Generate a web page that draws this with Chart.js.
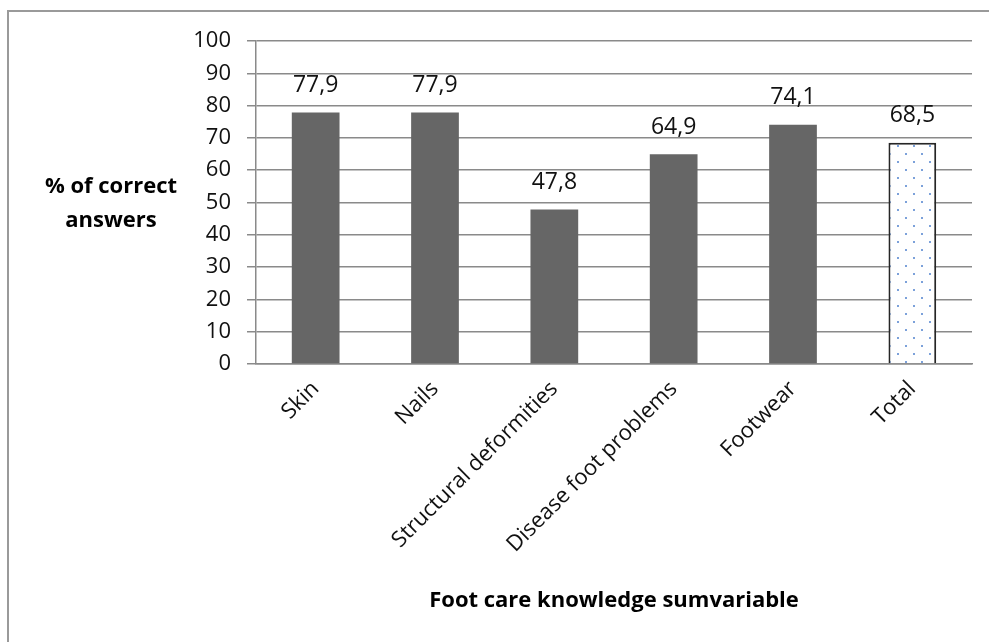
<!DOCTYPE html>
<html lang="en">
  <head>
    <meta charset="UTF-8" />
    <title>Foot care knowledge</title>
    <script src="https://cdn.jsdelivr.net/npm/chart.js@4.4.1/dist/chart.umd.min.js"></script>
    <style>
      body { margin: 0; background: #fff; }
      #wrap { width: 989px; height: 642px; }
    </style>
  </head>
  <body>
    <div id="wrap"><canvas id="myChart"></canvas></div>

    <script>
      const labels = ["Skin", "Nails", "Structural deformities", "Disease foot problems", "Footwear", "Total"];
      const values = [77.9, 77.9, 47.8, 64.9, 74.1, 68.5];
      const yTicks = [0, 10, 20, 30, 40, 50, 60, 70, 80, 90, 100];
      const yTitle = ["% of correct", "answers"];
      const xTitle = "Foot care knowledge sumvariable";

      const FONT = "'Open Sans', 'Noto Sans', sans-serif";
      const gridColor = "#8a8a8a";

      // dotted fill for the Total bar
      function dotPattern() {
        const c = document.createElement("canvas");
        c.width = 16;
        c.height = 16;
        const g = c.getContext("2d");
        g.fillStyle = "#fff";
        g.fillRect(0, 0, 16, 16);
        g.fillStyle = "rgba(80,130,205,0.75)";
        g.fillRect(1, 1, 2, 2);
        g.fillRect(9, 9, 2, 2);
        return g.createPattern(c, "repeat");
      }

      const extras = {
        id: "extras",
        afterDraw(chart) {
          const ctx = chart.ctx;
          ctx.save();
          // outer frame (left + top only visible)
          ctx.strokeStyle = "#9a9a9a";
          ctx.lineWidth = 2;
          ctx.beginPath();
          ctx.moveTo(8, 642);
          ctx.lineTo(8, 11);
          ctx.lineTo(989, 11);
          ctx.stroke();

          // value labels
          const meta = chart.getDatasetMeta(0);
          ctx.fillStyle = "#111";
          ctx.font = "23px " + FONT;
          ctx.textAlign = "center";
          ctx.textBaseline = "middle";
          meta.data.forEach((bar, i) => {
            ctx.fillText(values[i].toFixed(1).replace(".", ","), bar.x, bar.y - 27);
          });

          // y axis title, horizontal
          ctx.font = "bold 22px " + FONT;
          ctx.fillStyle = "#000";
          ctx.fillText(yTitle[0], 111, 187);
          ctx.fillText(yTitle[1], 111, 221);
          ctx.restore();
        },
      };

      const ctx = document.getElementById("myChart").getContext("2d");
      const myChart = new Chart(ctx, {
        type: "bar",
        data: {
          labels: labels,
          datasets: [
            {
              data: values,
              backgroundColor: ["#666666", "#666666", "#666666", "#666666", "#666666", dotPattern()],
              borderColor: ["#666666", "#666666", "#666666", "#666666", "#666666", "#262626"],
              borderWidth: [0, 0, 0, 0, 0, 2],
              barPercentage: 0.4,
              categoryPercentage: 1,
            },
          ],
        },
        plugins: [extras],
        options: {
          responsive: true,
          maintainAspectRatio: false,
          animation: false,
          layout: { padding: { left: 0, right: 17, top: 41, bottom: 28 } },
          plugins: { legend: { display: false }, tooltip: { enabled: false } },
          scales: {
            x: {
              grid: { display: false },
              border: { display: true, color: gridColor, width: 1.5 },
              ticks: {
                color: "#111",
                font: { family: FONT, size: 22 },
                minRotation: 45,
                maxRotation: 45,
                padding: 4,
              },
              title: {
                display: true,
                text: xTitle,
                color: "#000",
                font: { family: FONT, size: 22, weight: "bold", lineHeight: 1.2 },
                padding: { top: 0, bottom: 0 },
              },
              afterFit(scale) {
                scale.height = 614 - 364;
              },
            },
            y: {
              min: 0,
              max: 100,
              afterBuildTicks(scale) {
                scale.ticks = yTicks.map((v) => ({ value: v }));
              },
              grid: { color: gridColor, lineWidth: 1.5, tickLength: 9 },
              border: { display: true, color: gridColor, width: 1.5 },
              ticks: {
                color: "#111",
                font: { family: FONT, size: 22 },
                padding: 16,
              },
              afterFit(scale) {
                scale.width = 256;
              },
            },
          },
        },
      });
    </script>
  </body>
</html>
